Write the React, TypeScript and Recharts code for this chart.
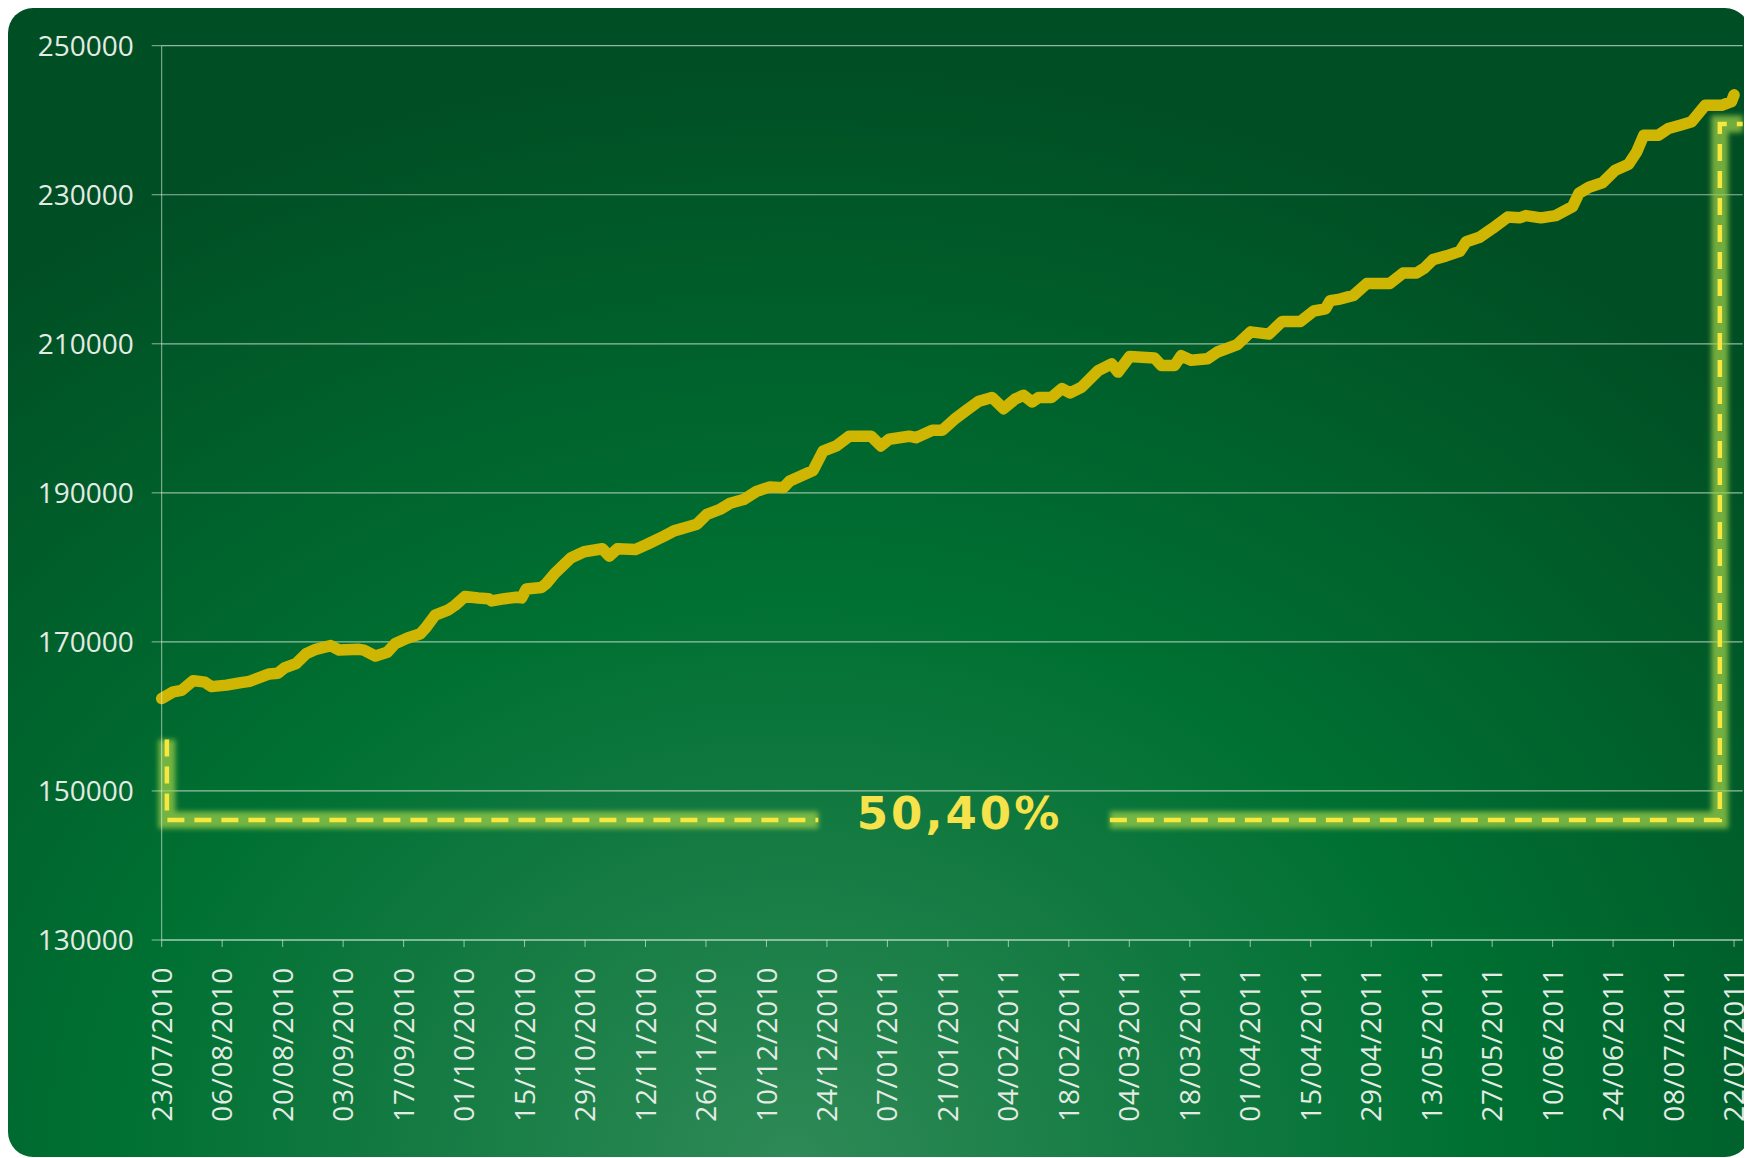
import React from 'react';
import { ComposedChart, Line, XAxis, YAxis, CartesianGrid, ReferenceDot } from 'recharts';

// X tick labels (every 14 days)
const tickLabels = [
  '23/07/2010', '06/08/2010', '20/08/2010', '03/09/2010', '17/09/2010', '01/10/2010',
  '15/10/2010', '29/10/2010', '12/11/2010', '26/11/2010', '10/12/2010', '24/12/2010',
  '07/01/2011', '21/01/2011', '04/02/2011', '18/02/2011', '04/03/2011', '18/03/2011',
  '01/04/2011', '15/04/2011', '29/04/2011', '13/05/2011', '27/05/2011', '10/06/2011',
  '24/06/2011', '08/07/2011', '22/07/2011',
];
const tickDays = tickLabels.map((_, i) => i * 14);
const yTicks = [130000, 150000, 170000, 190000, 210000, 230000, 250000];

// Main series: days since 23/07/2010 and values
const days = [
  0, 2.7, 4.6, 7.3, 10, 11.5, 15, 18, 20.3, 22.6, 24.9, 26.9, 28.4, 31.1, 33.4, 35.7, 39.1, 41.1,
  45.7, 46.8, 49.5, 52.2, 54.1, 56.8, 59.9, 61, 63.3, 66.4, 67.9, 70.2, 73.3, 75.6, 76.4, 79.4,
  82.1, 83.3, 84.4, 87.9, 89, 91, 94.8, 97.8, 102, 103.6, 105.5, 109.7, 112.4, 116.3, 118.6,
  123.9, 126.2, 129.3, 131.6, 134.7, 137.7, 140.8, 143.9, 145.4, 148.5, 150.8, 153.1, 156.2,
  159.2, 164.2, 166.5, 168.4, 173, 174.6, 178.4, 180.7, 183.8, 186.1, 189.2, 192.2, 194.9,
  197.6, 199.5, 201.5, 203, 206, 208.4, 210.3, 213, 216.8, 219.9, 221.4, 224.1, 229.8, 231.4,
  234.5, 236, 238.3, 242.1, 244.4, 249, 252.1, 256.3, 259.4, 263.6, 266.7, 269.4, 270.5, 272.8,
  275.9, 279, 284.3, 287.4, 290.5, 292.4, 294.3, 297.4, 300.5, 302, 305.1, 308.1, 311.6, 314.3,
  315.8, 319.3, 322.7, 326.6, 328.1, 330.4, 333.5, 336.5, 339.6, 341.5, 343.1, 346.5, 348.8,
  351.9, 354.2, 357.3, 361.1, 363.4, 364,
];
const values = [
  162400, 163300, 163500, 164800, 164600, 164000, 164200, 164500, 164700, 165200, 165700, 165800,
  166500, 167100, 168400, 169000, 169500, 168900, 169000, 168900, 168100, 168600, 169800, 170500,
  171100, 171800, 173600, 174300, 174900, 176100, 175900, 175800, 175500, 175800, 176000, 175900,
  177100, 177300, 177800, 179200, 181300, 182100, 182500, 181500, 182500, 182400, 183100, 184200,
  184900, 185800, 187100, 187800, 188600, 189100, 190200, 190800, 190700, 191600, 192400, 193000,
  195600, 196300, 197600, 197600, 196300, 197200, 197600, 197400, 198400, 198400, 200000, 201000,
  202300, 202800, 201300, 202600, 203100, 202200, 202800, 202800, 204000, 203400, 204200, 206400,
  207300, 206200, 208300, 208100, 207100, 207100, 208400, 207800, 208000, 208900, 209900, 211600,
  211300, 213000, 213000, 214400, 214700, 215800, 216000, 216500, 218100, 218100, 219500, 219500,
  220200, 221300, 221800, 222400, 223700, 224300, 225500, 227000, 226900, 227200, 226900, 227200,
  228400, 230200, 231000, 231600, 233300, 234100, 235800, 238000, 238000, 238900, 239400, 239800,
  242000, 242000, 242500, 243400,
];

// Annotation bracket (dashed)
const pctLabel = '50,40%';
const bracketLeftDays = [1.2, 1.2, 152];
const bracketLeftValues = [156900, 146100, 146100];
const bracketRightDays = [219.5, 360.7, 360.7, 366];
const bracketRightValues = [146100, 146100, 239500, 239500];
const labelDay = 184.7;
const labelValue = 146100;

const mainData = days.map((d, i) => ({ day: d, value: values[i] }));
const leftData = bracketLeftDays.map((d, i) => ({ day: d, b: bracketLeftValues[i] }));
const rightData = bracketRightDays.map((d, i) => ({ day: d, b: bracketRightValues[i] }));

const TEXT = '#e4ebe4';
const GRID = 'rgba(235,245,235,0.62)';

const XTick = (props: any) => {
  const { x, y, payload } = props;
  const idx = tickDays.indexOf(payload.value);
  return (
    <text
      x={x}
      y={y}
      transform={`rotate(-90, ${x}, ${y})`}
      textAnchor="end"
      dy="0.36em"
      fill={TEXT}
      fontSize={28}
      letterSpacing={0.6}
      fontFamily="'Open Sans', sans-serif"
    >
      {idx >= 0 ? tickLabels[idx] : ''}
    </text>
  );
};

const PctLabel = (props: any) => {
  const vb = props.viewBox || {};
  const cx = (vb.x ?? 0) + (vb.width ?? 0) / 2;
  const cy = (vb.y ?? 0) + (vb.height ?? 0) / 2;
  return (
    <text
      x={cx}
      y={cy}
      dy={9}
      textAnchor="middle"
      fill="#f6e24a"
      fontSize={45}
      fontWeight="bold"
      letterSpacing={3}
      fontFamily="'DejaVu Sans', sans-serif"
    >
      {pctLabel}
    </text>
  );
};

const glowProps = {
  type: 'linear' as const,
  dataKey: 'b',
  stroke: '#9fd048',
  strokeOpacity: 0.72,
  strokeWidth: 17,
  dot: false,
  activeDot: false,
  isAnimationActive: false,
};

const dashProps = {
  type: 'linear' as const,
  dataKey: 'b',
  stroke: '#f6e83e',
  strokeWidth: 4.5,
  strokeDasharray: '17 10',
  dot: false,
  activeDot: false,
  isAnimationActive: false,
};

export default function App() {
  return (
    <div
      style={{
        position: 'relative',
        width: 1742,
        height: 1149,
        borderRadius: 25,
        overflow: 'hidden',
        background:
          'radial-gradient(ellipse 75% 95% at 45% 100%, #2e8a56 0%, #157b43 28%, #007032 52%, #005d2a 80%, #004f24 100%)',
      }}
    >
      <svg width={0} height={0} style={{ position: 'absolute' }}>
        <defs>
          <filter id="glowBlur" filterUnits="userSpaceOnUse" x={0} y={0} width={2000} height={1300}>
            <feGaussianBlur stdDeviation={2.5} />
          </filter>
        </defs>
      </svg>
      <ComposedChart
        width={1742}
        height={1149}
        margin={{ top: 37.7, right: 7.3, left: 0, bottom: 7 }}
      >
        <CartesianGrid horizontal vertical={false} stroke={GRID} strokeWidth={1.2} />
        <XAxis
          type="number"
          dataKey="day"
          domain={[0, 364]}
          ticks={tickDays}
          interval={0}
          height={210}
          tickSize={7}
          tickMargin={20}
          stroke={GRID}
          tickLine={{ stroke: GRID }}
          axisLine={{ stroke: GRID }}
          tick={<XTick />}
        />
        <YAxis
          type="number"
          domain={[130000, 250000]}
          ticks={yTicks}
          interval={0}
          width={153.7}
          tickSize={10}
          tickMargin={18}
          stroke={GRID}
          axisLine={{ stroke: GRID }}
          tickLine={{ stroke: GRID }}
          tick={{ fill: TEXT, fontSize: 28, fontFamily: "'Open Sans', sans-serif" }}
        />
        <Line data={leftData} {...glowProps} filter="url(#glowBlur)" />
        <Line data={rightData} {...glowProps} filter="url(#glowBlur)" />
        <Line data={leftData} {...dashProps} />
        <Line data={rightData} {...dashProps} />
        <Line
          data={mainData}
          dataKey="value"
          type="linear"
          stroke="#cfb602"
          strokeWidth={11.5}
          strokeLinejoin="round"
          strokeLinecap="round"
          dot={false}
          activeDot={false}
          isAnimationActive={false}
        />
        <ReferenceDot
          x={labelDay}
          y={labelValue}
          r={1}
          fill="none"
          stroke="none"
          label={<PctLabel />}
        />
      </ComposedChart>
    </div>
  );
}
